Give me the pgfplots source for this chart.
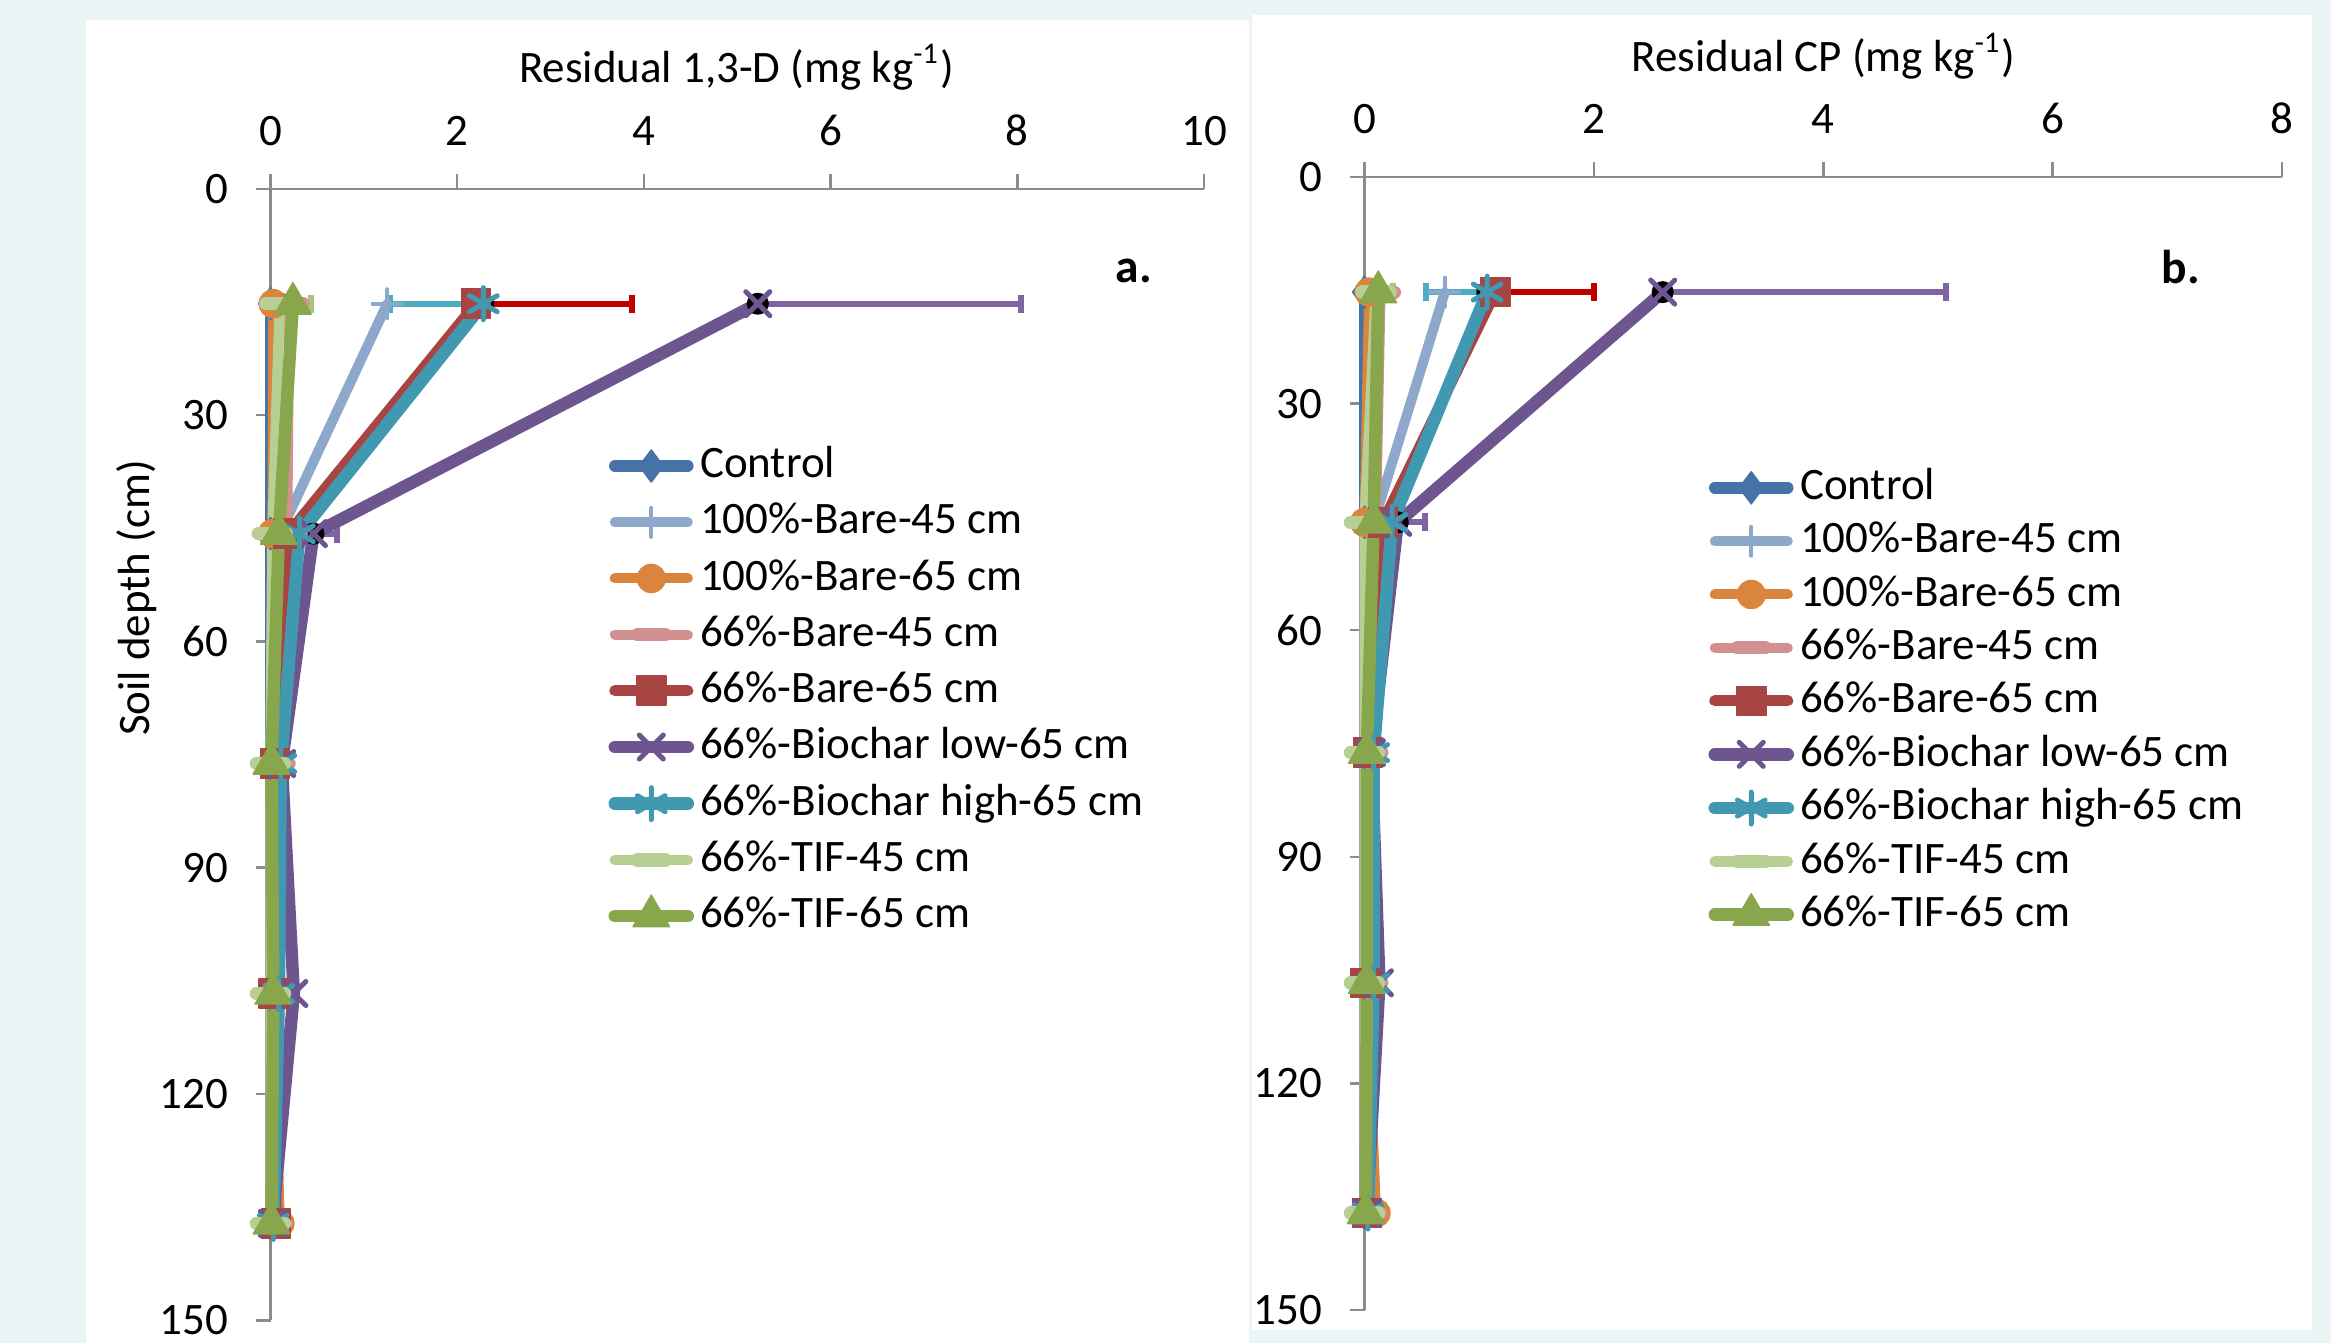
\documentclass[border=0pt]{standalone}
\usepackage{fontspec}
\setmainfont{Carlito}
\usepackage{pgfplots}
\pgfplotsset{compat=1.18}
\definecolor{bg}{HTML}{EBF4F5}
\definecolor{axgray}{HTML}{8C8C8C}
\definecolor{cC}{HTML}{4572A7}
\definecolor{cBa}{HTML}{8EA8CC}
\definecolor{cBb}{HTML}{DB843D}
\definecolor{cPa}{HTML}{D29091}
\definecolor{cPb}{HTML}{A84442}
\definecolor{cL}{HTML}{6D5590}
\definecolor{cH}{HTML}{4199B1}
\definecolor{cTa}{HTML}{B8CF94}
\definecolor{cTb}{HTML}{88A64C}
\definecolor{eR}{HTML}{C00000}
\definecolor{eL}{HTML}{8064A2}
\definecolor{eH}{HTML}{4BACC6}
\definecolor{eT}{HTML}{A9C47A}
\pgfplotsset{
  profile/.style={
    scale only axis, y dir=reverse, xmin=0, ymin=0, ymax=150, ytick={0,30,...,150},
    axis x line=top, axis y line=left,
    axis line style={-, draw=axgray, line width=0.5pt},
    tick align=outside, major tick length=3pt,
    tick style={draw=axgray, line width=0.5pt},
    /pgf/number format/assume math mode=true,
    ticklabel style={font=\fontsize{9}{11}\selectfont},
    xticklabel style={yshift=2.1pt},
    yticklabel style={xshift=-2pt},
    clip=false,
    legend style={draw=none, fill=none, font=\fontsize{9}{11}\selectfont, anchor=north west,
      nodes={inner xsep=1.2pt}},
    legend cell align=left,
    legend image code/.code={\draw[mark repeat=2,mark phase=2,##1] plot coordinates {(0pt,0pt) (7.3pt,0pt) (14.6pt,0pt)};},
    every axis plot/.append style={line cap=round, line join=round},
  },
  sC/.style={color=cC, line width=2.3pt, mark=diamond*, mark size=3.2pt, mark options={line width=0.3pt}},
  sBa/.style={color=cBa, line width=2.0pt, mark=+, mark size=2.9pt, mark options={line width=0.8pt}},
  sBb/.style={color=cBb, line width=2.0pt, mark=*, mark size=2.8pt, mark options={line width=0.3pt}},
  sPa/.style={color=cPa, line width=2.0pt, mark=-, mark size=2.8pt, mark options={line width=2.6pt}},
  sPb/.style={color=cPb, line width=2.2pt, mark=square*, mark size=2.9pt, mark options={line width=0.3pt}},
  sL/.style={color=cL, line width=2.5pt, mark=x, mark size=3.4pt, mark options={line width=1pt}},
  sH/.style={color=cH, line width=2.5pt, mark=asterisk, mark size=3.2pt, mark options={line width=1pt}},
  sTa/.style={color=cTa, line width=2.1pt, mark=-, mark size=2.8pt, mark options={line width=2.7pt}},
  sTb/.style={color=cTb, line width=2.5pt, mark=triangle*, mark size=4.2pt, mark options={line width=0.3pt}},
  ebar/.style 2 args={forget plot, only marks, mark=none,
    error bars/.cd, x dir=#1, x explicit, error mark=|,
    error bar style={line width=1.2pt, color=#2},
    error mark options={line width=1.2pt, color=#2, mark size=1.8pt}},
}
\begin{document}
\begin{tikzpicture}
\path[use as bounding box, fill=bg] (0pt,0pt) rectangle (466.2pt,268.6pt);
\fill[white] (17.2pt,0pt) rectangle (249.8pt,264.7pt);
\fill[white] (250.4pt,2.6pt) rectangle (462.4pt,265.6pt);

% ---------------- panel a ----------------
\begin{axis}[profile, width=186.7pt, height=226.3pt, at={(147.45pt,117.7pt)}, anchor=center,
  xmax=10, xtick={0,2,...,10},
  legend style={at={(axis cs:3.45,31.4)}, row sep=-0.42pt}]
\addplot[ebar={plus}{eT}] coordinates {(0.10,15.24) +- (0.33,0)};
\addplot[ebar={plus}{eR}] coordinates {(2.20,15.24) +- (1.67,0)};
\addplot[ebar={plus}{eL}] coordinates {(5.22,15.24) +- (2.82,0) (0.46,45.72) +- (0.25,0)};
\addplot[ebar={minus}{eH}] coordinates {(2.28,15.24) +- (1.00,0)};
\addplot[sC]  coordinates {(0.00,15.24) (0.00,45.72) (0.00,76.2) (0.00,106.68) (0.00,137.16)};
\addplot[sBa] coordinates {(1.25,15.24) (0.10,45.72) (0.02,76.2) (0.02,106.68) (0.02,137.16)};
\addplot[sBb] coordinates {(0.03,15.24) (0.02,45.72) (0.02,76.2) (0.03,106.68) (0.10,137.16)};
\addplot[sPa] coordinates {(0.20,15.24) (0.18,45.72) (0.05,76.2) (0.04,106.68) (0.02,137.16)};
\addplot[sPb] coordinates {(2.20,15.24) (0.19,45.72) (0.05,76.2) (0.03,106.68) (0.06,137.16)};
\addplot[sL]  coordinates {(5.22,15.24) (0.46,45.72) (0.12,76.2) (0.25,106.68) (0.02,137.16)};
\addplot[sH]  coordinates {(2.28,15.24) (0.31,45.72) (0.11,76.2) (0.09,106.68) (0.03,137.16)};
\addplot[sTa] coordinates {(0.10,15.24) (0.02,45.72) (0.00,76.2) (0.00,106.68) (0.00,137.16)};
\addplot[sTb] coordinates {(0.24,15.24) (0.09,45.72) (0.01,76.2) (0.03,106.68) (0.01,137.16)};
\legend{Control, 100\%-Bare-45 cm, 100\%-Bare-65 cm, 66\%-Bare-45 cm, 66\%-Bare-65 cm, 66\%-Biochar low-65 cm, 66\%-Biochar high-65 cm, 66\%-TIF-45 cm, 66\%-TIF-65 cm}
\end{axis}

% ---------------- panel b ----------------
\begin{axis}[profile, width=183.5pt, height=226.6pt, at={(364.65pt,119.9pt)}, anchor=center,
  xmax=8, xtick={0,2,...,8},
  legend style={at={(axis cs:2.86,35.8)}, row sep=-1pt}]
\addplot[ebar={plus}{eT}] coordinates {(0.10,15.24) +- (0.15,0)};
\addplot[ebar={plus}{eR}] coordinates {(1.14,15.24) +- (0.86,0)};
\addplot[ebar={plus}{eL}] coordinates {(2.60,15.24) +- (2.47,0) (0.29,45.72) +- (0.24,0)};
\addplot[ebar={minus}{eH}] coordinates {(1.07,15.24) +- (0.53,0)};
\addplot[sC]  coordinates {(0.00,15.24) (0.00,45.72) (0.00,76.2) (0.00,106.68) (0.00,137.16)};
\addplot[sBa] coordinates {(0.70,15.24) (0.08,45.72) (0.02,76.2) (0.02,106.68) (0.02,137.16)};
\addplot[sBb] coordinates {(0.04,15.24) (0.00,45.72) (0.02,76.2) (0.02,106.68) (0.10,137.16)};
\addplot[sPa] coordinates {(0.14,15.24) (0.10,45.72) (0.03,76.2) (0.03,106.68) (0.02,137.16)};
\addplot[sPb] coordinates {(1.14,15.24) (0.16,45.72) (0.03,76.2) (0.01,106.68) (0.02,137.16)};
\addplot[sL]  coordinates {(2.60,15.24) (0.29,45.72) (0.06,76.2) (0.13,106.68) (0.02,137.16)};
\addplot[sH]  coordinates {(1.07,15.24) (0.24,45.72) (0.08,76.2) (0.08,106.68) (0.03,137.16)};
\addplot[sTa] coordinates {(0.10,15.24) (0.00,45.72) (0.00,76.2) (0.00,106.68) (0.00,137.16)};
\addplot[sTb] coordinates {(0.12,15.24) (0.08,45.72) (0.02,76.2) (0.02,106.68) (0.01,137.16)};
\legend{Control, 100\%-Bare-45 cm, 100\%-Bare-65 cm, 66\%-Bare-45 cm, 66\%-Bare-65 cm, 66\%-Biochar low-65 cm, 66\%-Biochar high-65 cm, 66\%-TIF-45 cm, 66\%-TIF-65 cm}
\end{axis}

\node[font=\fontsize{9}{11}\selectfont] at (147.3pt,255.2pt) {Residual 1,3-D (mg kg\textsuperscript{-1})};
\node[font=\fontsize{9}{11}\selectfont] at (364.7pt,257.3pt) {Residual CP (mg kg\textsuperscript{-1})};
\node[font=\fontsize{9}{11}\selectfont, rotate=90] at (27.4pt,149pt) {Soil depth (cm)};
\node[font=\bfseries\fontsize{9.5}{11}\selectfont] at (226.8pt,214.5pt) {a.};
\node[font=\bfseries\fontsize{9.5}{11}\selectfont] at (436.2pt,215.1pt) {b.};
\end{tikzpicture}
\end{document}
